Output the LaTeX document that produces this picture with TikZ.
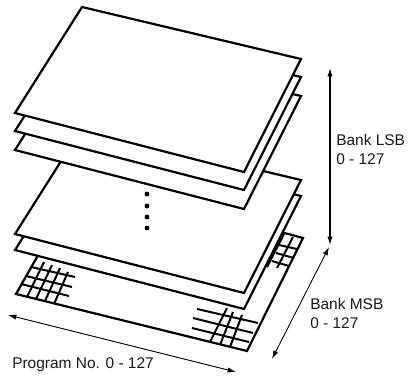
\documentclass[tikz,border=0pt]{standalone}
\usepackage{fontspec}
\setmainfont{Liberation Sans}
\usetikzlibrary{arrows.meta}
\tikzset{
  sheet/.style={draw=black,fill=white,line width=1.65pt,line join=miter},
  gridline/.style={draw=black,line width=1.5pt},
  rangearrow/.style={{Latex[length=2.2mm,width=1.4mm]}-{Latex[length=2.2mm,width=1.4mm]},draw=black,line width=.65pt},
  lab/.style={anchor=west,align=left,font=\fontsize{11.6}{14.2}\selectfont,inner sep=0pt,text=black!90}
}
\begin{document}
\begin{tikzpicture}[x=.75pt,y=-.75pt]
  \useasboundingbox (0,0) rectangle (408,376);
  % lowest sheet
  \draw[sheet] (82,178)--(303,238)--(247,351)--(16,294)--cycle;
  % grid, left corner
  \foreach \xa/\ya/\xb/\yb in {31/267/75/277,26/276/72/287,21/284/69/296}{
    \draw[gridline] (\xa,\ya)--(\xb,\yb);
  }
  \foreach \xa/\ya/\xb/\yb in {27/297/44/262,36/299/52/265,45/301/60/268,54/304/68/272}{
    \draw[gridline] (\xa,\ya)--(\xb,\yb);
  }
  % grid, bottom corner
  \foreach \xa/\ya/\xb/\yb in {197/309/258/323,193/318/253/333,192/328/249/342}{
    \draw[gridline] (\xa,\ya)--(\xb,\yb);
  }
  \foreach \xa/\ya/\xb/\yb in {227/308/210/342,233/312/220/345,242/315/230/347}{
    \draw[gridline] (\xa,\ya)--(\xb,\yb);
  }
  % grid, right corner
  \foreach \xa/\ya/\xb/\yb in {279/245/297/249,276/253/294/258,272/261/289/266}{
    \draw[gridline] (\xa,\ya)--(\xb,\yb);
  }
  \foreach \xa/\ya/\xb/\yb in {284/234/267/267,293/237/277/268}{
    \draw[gridline] (\xa,\ya)--(\xb,\yb);
  }
  % stacked sheets, back to front
  \foreach \dy in {137,121,37,18,0}{
    \draw[sheet] (82,7+\dy)--(301,59+\dy)--(244,172+\dy)--(15,113+\dy)--cycle;
  }
  % dots between the sheets
  \foreach \y in {194,206,217,228}{
    \fill (147,\y) circle (2.4);
  }
  % ranges
  \coordinate (lsbtop) at (330,68);
  \coordinate (lsbbot) at (330,245);
  \coordinate (msbtop) at (329,247);
  \coordinate (msbbot) at (272,359);
  \coordinate (progleft) at (8,315);
  \coordinate (progright) at (236,372);
  \draw[rangearrow,line width=1pt] (lsbtop)--(lsbbot);
  \draw[rangearrow] (msbtop)--(msbbot);
  \draw[rangearrow] (progleft)--(progright);
  \node[lab] (lsb) at (336,149) {Bank LSB\\0 - 127};
  \node[lab] (msb) at (310,313) {Bank MSB\\0 - 127};
  \node[lab] (prog) at (12,365) {Program No. 0 - 127};
\end{tikzpicture}
\end{document}
